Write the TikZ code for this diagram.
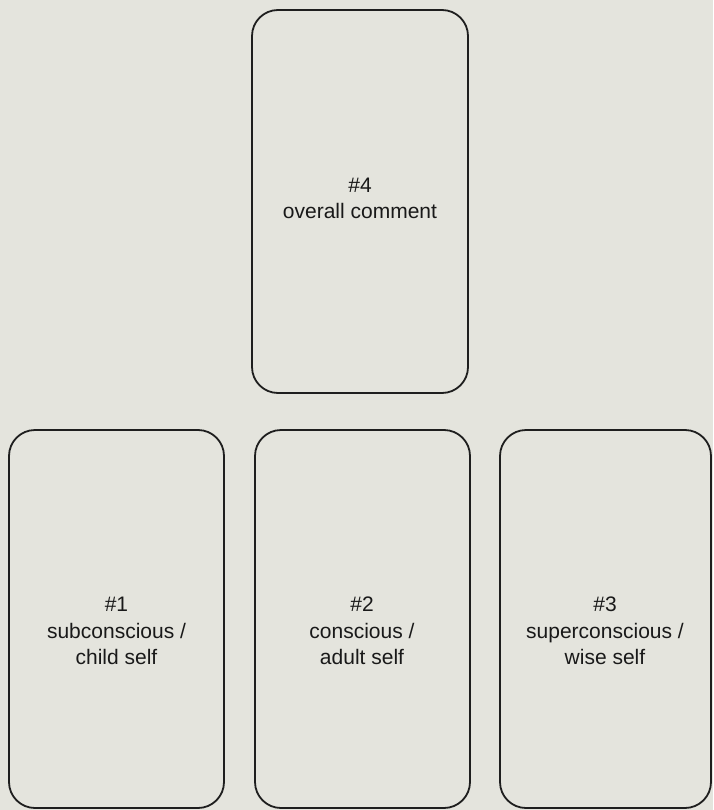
\documentclass[tikz,border=0pt]{standalone}
\usepackage{fontspec}
\setmainfont{Liberation Sans}
\definecolor{bgc}{HTML}{E4E4DD}
\definecolor{linec}{HTML}{1E1E1E}
\begin{document}
\begin{tikzpicture}[x=1pt,y=-1pt,
  card/.style={draw=linec,line width=1.8pt,rounded corners=26pt},
  lbl/.style={align=center,font=\fontsize{21}{26.5}\selectfont,text=black!90,inner sep=0pt}]
\fill[bgc] (0,0) rectangle (713,810);
\useasboundingbox (0,0) rectangle (713,810);
\draw[card] (252,10) rectangle (468,393);
\draw[card] (9,430) rectangle (224,808);
\draw[card] (255,430) rectangle (470,808);
\draw[card] (500,430) rectangle (711,808);
\node[lbl] (t4) at (360,198.5) {\#4\\overall comment};
\node[lbl] (t1) at (116.5,631) {\#1\\subconscious /\\child self};
\node[lbl] (t2) at (362,631) {\#2\\conscious /\\adult self};
\node[lbl] (t3) at (605,631) {\#3\\superconscious /\\wise self};
\end{tikzpicture}
\end{document}
